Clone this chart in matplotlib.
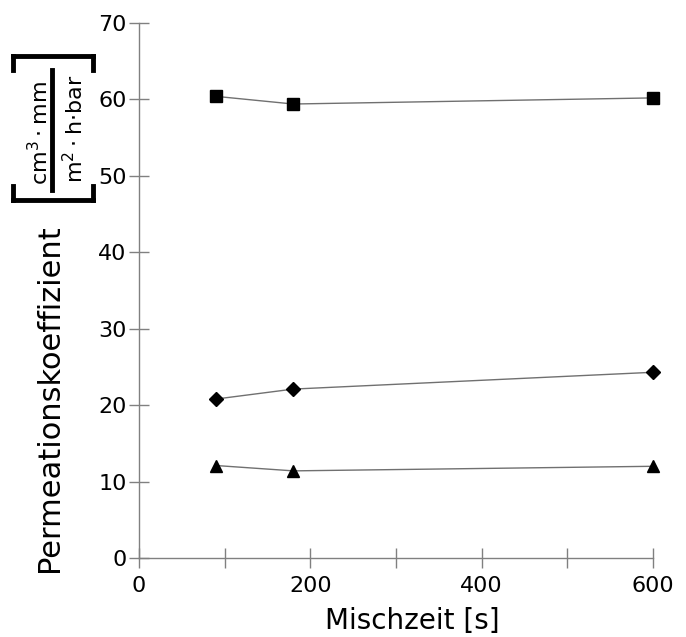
import numpy as np
import matplotlib
matplotlib.use("Agg")
import matplotlib.pyplot as plt
from matplotlib.lines import Line2D

# Data
MISCHZEIT = [90, 180, 600]
SQUARE_VALUES = [60.4, 59.4, 60.2]
DIAMOND_VALUES = [20.8, 22.1, 24.3]
TRIANGLE_VALUES = [12.1, 11.4, 12.0]

X_MAJOR = [0, 200, 400, 600]
X_MINOR = [100, 300, 500]
Y_TICKS = [0, 10, 20, 30, 40, 50, 60, 70]

plt.rcParams['font.family'] = ['DejaVu Sans']
plt.rcParams['mathtext.default'] = 'regular'

W, H = 686, 637
fig = plt.figure(figsize=(W / 100, H / 100), dpi=100)
ax = fig.add_axes([139 / W, 1 - 558 / H, 514 / W, 535 / H])

LINE_COLOR = '#707070'
AXIS_COLOR = '#808080'
for vals, mk, size in [(SQUARE_VALUES, 's', 8), (DIAMOND_VALUES, 'D', 7),
                       (TRIANGLE_VALUES, '^', 9)]:
    ax.plot(MISCHZEIT, vals, color=LINE_COLOR, lw=1, marker=mk, ms=size,
            mfc='black', mec='black', zorder=3, clip_on=False)

ax.set_xlim(0, 600)
ax.set_ylim(0, 70)
ax.set_xticks(X_MAJOR)
ax.set_xticks(X_MINOR, minor=True)
ax.set_yticks(Y_TICKS)

for side in ['top', 'right']:
    ax.spines[side].set_visible(False)
for side in ['left', 'bottom']:
    ax.spines[side].set_color(AXIS_COLOR)
    ax.spines[side].set_linewidth(1)

ax.tick_params(which='both', direction='inout', length=14, width=1,
               color=AXIS_COLOR, labelsize=16, labelcolor='black')
ax.tick_params(axis='y', pad=2)
ax.tick_params(axis='x', pad=6)


def px(x, y):
    # pixel coords (from top-left) -> figure fraction
    return x / W, 1 - y / H


# x label
fig.text(*px(412, 629), 'Mischzeit [s]', fontsize=20, ha='center', va='baseline')

# y label: text plus bracketed unit fraction, drawn piece by piece
fig.text(*px(50, 398), 'Permeationskoeffizient', fontsize=22, rotation=90,
         ha='center', va='center')
fig.text(*px(40, 133), r'cm$^3\cdot$mm', fontsize=16, rotation=90,
         ha='center', va='center')
fig.text(*px(75, 129), r'm$^2\cdot$h$\cdot$bar', fontsize=16, rotation=90,
         ha='center', va='center')

lw_br = 3.5
segments = [
    ([52, 52], [70, 190]),          # fraction bar
    ([13, 93], [200, 200]),         # lower bracket
    ([13, 13], [200, 186]),
    ([93, 93], [200, 186]),
    ([13, 93], [56, 56]),           # upper bracket
    ([13, 13], [56, 70]),
    ([93, 93], [56, 70]),
]
for xs, ys in segments:
    fx = [x / W for x in xs]
    fy = [1 - y / H for y in ys]
    fig.add_artist(Line2D(fx, fy, color='black', lw=lw_br,
                          solid_capstyle='projecting', transform=fig.transFigure))

plt.savefig('out.png', dpi=100)
